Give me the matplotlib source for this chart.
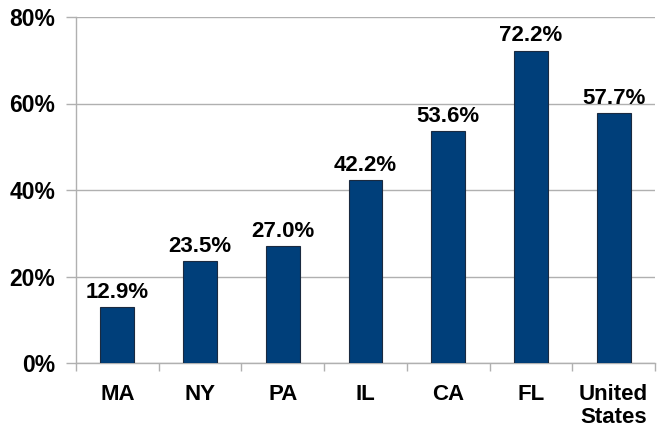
import numpy as np
import matplotlib.pyplot as plt
from matplotlib.ticker import FixedLocator

plt.rcParams['font.family'] = ['Liberation Sans', 'DejaVu Sans']
plt.rcParams['font.weight'] = 'bold'

states = ['MA', 'NY', 'PA', 'IL', 'CA', 'FL', 'United\nStates']
values = [12.9, 23.5, 27.0, 42.2, 53.6, 72.2, 57.7]

bar_color = '#003F7A'
grid_color = '#b0b0b0'

fig = plt.figure(figsize=(6.66, 4.32), dpi=100)
ax = fig.add_axes([76/666, 1 - 363/432, (655-76)/666, (363-17)/432])

x = np.arange(len(states))
ax.bar(x, values, width=0.41, color=bar_color, edgecolor='#1a2a40', linewidth=0.8, zorder=3)

for xi, v in zip(x, values):
    ax.text(xi, v + 1.0, f'{v:.1f}%', ha='center', va='bottom', fontsize=16, fontweight='bold')

ax.set_xlim(-0.5, len(states) - 0.5)
ax.set_ylim(0, 80)
ax.set_yticks([0, 20, 40, 60, 80])
ax.set_yticklabels([f'{t}%' for t in [0, 20, 40, 60, 80]], fontsize=16.5, fontweight='bold')
ax.set_xticks(x)
ax.set_xticklabels(states, fontsize=16, fontweight='bold', linespacing=1.15)
ax.xaxis.set_minor_locator(FixedLocator(np.arange(-0.5, len(states), 1)))
ax.tick_params(axis='x', which='major', length=0, pad=15)
ax.tick_params(axis='x', which='minor', length=6, color=grid_color, width=1)
ax.tick_params(axis='y', length=7, color=grid_color, width=1, pad=8)

ax.grid(axis='y', color=grid_color, linewidth=1, zorder=0)
for s in ['top', 'right']:
    ax.spines[s].set_visible(False)
for s in ['left', 'bottom']:
    ax.spines[s].set_color(grid_color)
    ax.spines[s].set_linewidth(1)

fig.savefig('out.png', dpi=100)
